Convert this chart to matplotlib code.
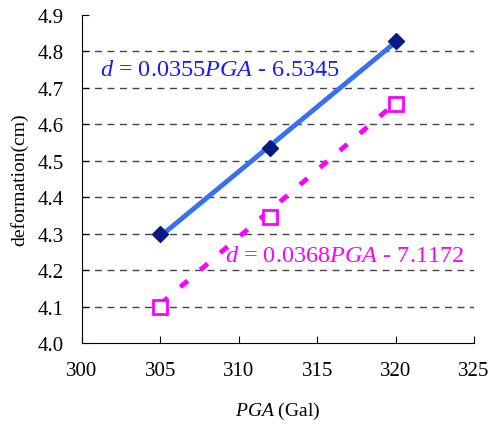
import numpy as np
import matplotlib
matplotlib.use('Agg')
import matplotlib.pyplot as plt

plt.rcParams['font.family'] = ['Liberation Serif', 'DejaVu Serif']
plt.rcParams['mathtext.fontset'] = 'custom'
plt.rcParams['mathtext.it'] = 'Liberation Serif:italic'
plt.rcParams['mathtext.rm'] = 'Liberation Serif'

# 데이터
pga = [305, 312, 320]
defo_a = [4.30, 4.535, 4.83]
defo_b = [4.10, 4.345, 4.655]
fit_a = (0.0355, -6.5345)
fit_b = (0.0368, -7.1172)
xticks = [300, 305, 310, 315, 320, 325]
yticks = [4.0, 4.1, 4.2, 4.3, 4.4, 4.5, 4.6, 4.7, 4.8, 4.9]

fig = plt.figure(figsize=(4.92, 4.27), dpi=100)
ax = fig.add_axes([82/492, 1-344/427, (474-82)/492, (344-16)/427])

for y in yticks[1:-1]:
    ax.axhline(y, color='#444444', ls=(0, (5, 4)), lw=1, zorder=0)

xs = np.array([pga[0], pga[-1]])
ax.plot(xs, fit_a[0]*xs + fit_a[1], color='#3a6ff0', lw=3.5, zorder=2)
ax.plot(xs, fit_b[0]*xs + fit_b[1], color='#ff00ff', lw=3.5, ls=(0, (2.0, 3.4)),
        dash_capstyle='butt', zorder=2)
ax.plot(pga, defo_a, 'D', color='#0a1a80', ms=8, zorder=3)
ax.plot(pga, defo_b, 's', mfc='white', mec='#ff00ff', mew=2, ms=10.5, zorder=3)

ax.set_xlim(300, 325)
ax.set_ylim(4.0, 4.9)
ax.set_xticks(xticks)
ax.set_yticks(yticks)
ax.set_yticklabels(['%.1f' % v for v in yticks])
ax.tick_params(direction='in', labelsize=15, length=5)
ax.tick_params(axis='x', pad=13)
ax.tick_params(axis='y', pad=13)
ax.spines['top'].set_visible(False)
ax.spines['right'].set_visible(False)
ax.set_xlabel(r'$PGA$ (Gal)', fontsize=14, labelpad=14)
ax.set_ylabel('deformation(cm)', fontsize=14, labelpad=7)

fig.text(100/492, 1-70/427, r'$d$ = 0.0355$PGA$ - 6.5345', color='#1a1aff',
         fontsize=17.5, va='center')
fig.text(225/492, 1-257/427, r'$d$ = 0.0368$PGA$ - 7.1172', color='#ff00ff',
         fontsize=17.5, va='center')

fig.savefig('out.png', dpi=100)
